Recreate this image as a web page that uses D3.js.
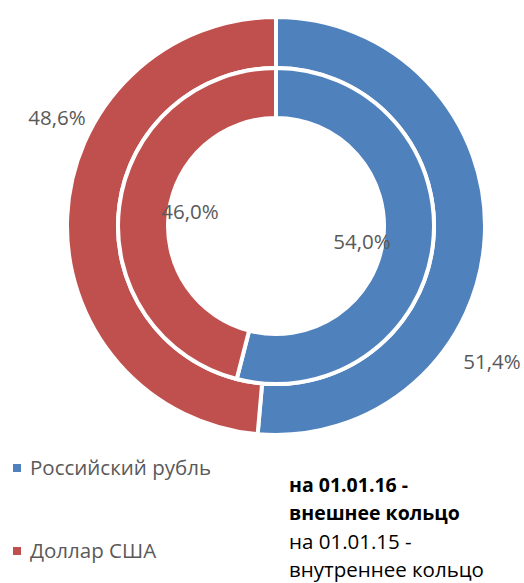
<!DOCTYPE html>
<html>
<head>
<meta charset="utf-8">
<script src="https://cdn.jsdelivr.net/npm/d3@7"></script>
<style>
  body { margin: 0; background: #fff; }
  text { font-family: "Open Sans", "Noto Sans", sans-serif; }
</style>
</head>
<body>
<div id="chart"></div>
<script>
// data
var categories = ["Российский рубль", "Доллар США"];
var outerValues = [51.4, 48.6];   // на 01.01.16
var innerValues = [54.0, 46.0];   // на 01.01.15
var colors = ["#4F81BD", "#C0504D"];
var noteLines = ["на 01.01.16 -", "внешнее кольцо", "на 01.01.15 -", "внутреннее кольцо"];

var svgWidth = 524;
var svgHeight = 583;
var cx = 276, cy = 226;

var svg = d3.select("#chart")
  .append("svg")
  .attr("width", svgWidth)
  .attr("height", svgHeight);

var g = svg.append("g")
  .attr("transform", `translate(${cx}, ${cy})`);

var pie = d3.pie().sort(null).value(d => d);

var outerArc = d3.arc().innerRadius(158).outerRadius(209);
var innerArc = d3.arc().innerRadius(108).outerRadius(158);

function fmt(v) {
  return v.toFixed(1).replace(".", ",") + "%";
}

// rings
g.selectAll(".outer")
  .data(pie(outerValues))
  .enter()
  .append("path")
  .attr("class", "outer")
  .attr("d", outerArc)
  .attr("fill", (d, i) => colors[i])
  .attr("stroke", "#fff")
  .attr("stroke-width", 4);

g.selectAll(".inner")
  .data(pie(innerValues))
  .enter()
  .append("path")
  .attr("class", "inner")
  .attr("d", innerArc)
  .attr("fill", (d, i) => colors[i])
  .attr("stroke", "#fff")
  .attr("stroke-width", 4);

// data labels (manually placed as in the original)
var outerLabelPos = [[216, 136], [-219, -108]];
var innerLabelPos = [[86, 16], [-86, -14]];

g.selectAll(".outer-label")
  .data(outerValues)
  .enter()
  .append("text")
  .attr("x", (d, i) => outerLabelPos[i][0])
  .attr("y", (d, i) => outerLabelPos[i][1])
  .attr("dy", "0.35em")
  .attr("text-anchor", "middle")
  .attr("font-size", 20.5)
  .attr("fill", "#595959")
  .text(d => fmt(d));

g.selectAll(".inner-label")
  .data(innerValues)
  .enter()
  .append("text")
  .attr("x", (d, i) => innerLabelPos[i][0])
  .attr("y", (d, i) => innerLabelPos[i][1])
  .attr("dy", "0.35em")
  .attr("text-anchor", "middle")
  .attr("font-size", 20.5)
  .attr("fill", "#595959")
  .text(d => fmt(d));

// legend
var legend = svg.selectAll(".legend")
  .data(categories)
  .enter()
  .append("g")
  .attr("class", "legend")
  .attr("transform", (d, i) => `translate(13, ${475 + i * 83})`);

legend.append("rect")
  .attr("x", 0)
  .attr("y", -11)
  .attr("width", 8)
  .attr("height", 8)
  .attr("fill", (d, i) => colors[i]);

legend.append("text")
  .attr("x", 17)
  .attr("y", 0)
  .attr("font-size", 20.5)
  .attr("fill", "#595959")
  .text(d => d);

// note text
svg.selectAll(".note")
  .data(noteLines)
  .enter()
  .append("text")
  .attr("class", "note")
  .attr("x", 289)
  .attr("y", (d, i) => 492 + i * 28.3)
  .attr("font-size", (d, i) => i < 2 ? 19.5 : 20.5)
  .attr("font-weight", (d, i) => i < 2 ? "bold" : "normal")
  .attr("fill", "#000")
  .text(d => d);
</script>
</body>
</html>
